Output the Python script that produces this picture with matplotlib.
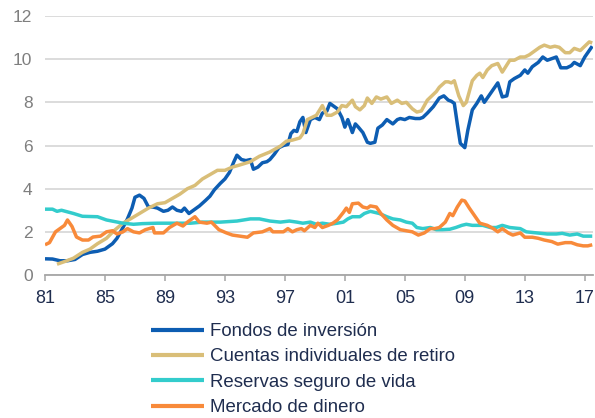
import matplotlib
matplotlib.use("Agg")
import matplotlib.pyplot as plt

plt.rcParams['font.family'] = ['Liberation Sans', 'DejaVu Sans']

# ---- data ----
fondos_x = [1981.0, 1981.5, 1982.0, 1982.5, 1983.0, 1983.5, 1984.0, 1984.5, 1985.0, 1985.5,
            1985.8, 1986.2, 1986.5, 1986.8, 1987.0, 1987.3, 1987.6, 1987.9, 1988.2, 1988.5,
            1988.9, 1989.2, 1989.5, 1989.8, 1990.1, 1990.3, 1990.6, 1991.0, 1991.3, 1991.7,
            1992.0, 1992.3, 1992.7, 1993.0, 1993.3, 1993.6, 1993.8, 1994.1, 1994.4, 1994.7,
            1994.9, 1995.2, 1995.5, 1995.8, 1996.0, 1996.3, 1996.6, 1996.9, 1997.2, 1997.4,
            1997.6, 1997.8, 1998.0, 1998.2, 1998.4, 1998.7, 1999.0, 1999.3, 1999.5, 1999.8,
            2000.0, 2000.3, 2000.5, 2000.8, 2001.0, 2001.2, 2001.5, 2001.7, 2001.9, 2002.2,
            2002.5, 2002.7, 2003.0, 2003.2, 2003.5, 2003.8, 2004.2, 2004.5, 2004.7, 2005.0,
            2005.3, 2005.7, 2006.0, 2006.2, 2006.5, 2006.9, 2007.3, 2007.6, 2007.9, 2008.1,
            2008.3, 2008.5, 2008.7, 2009.0, 2009.2, 2009.5, 2009.8, 2010.1, 2010.3, 2010.7,
            2011.0, 2011.2, 2011.5, 2011.8, 2012.0, 2012.3, 2012.7, 2013.0, 2013.2, 2013.5,
            2013.9, 2014.2, 2014.5, 2014.9, 2015.1, 2015.4, 2015.8, 2016.1, 2016.3, 2016.7,
            2017.0, 2017.3, 2017.5]
fondos_y = [0.75, 0.74, 0.66, 0.66, 0.72, 0.95, 1.05, 1.1, 1.2, 1.45,
            1.7, 2.2, 2.6, 3.1, 3.6, 3.7, 3.55, 3.15, 3.15, 3.1,
            2.95, 3.0, 3.15, 3.0, 2.95, 3.1, 2.85, 3.05, 3.2, 3.45,
            3.65, 3.95, 4.25, 4.45, 4.75, 5.25, 5.55, 5.35, 5.3, 5.35,
            4.9, 5.0, 5.2, 5.25, 5.35, 5.6, 5.9, 6.0, 6.05, 6.55,
            6.7, 6.65, 7.1, 7.3, 6.6, 7.2, 7.3, 7.2, 7.5, 7.6,
            7.95, 7.8, 7.7, 7.3, 6.85, 7.2, 6.6, 7.0, 6.85, 6.6,
            6.15, 6.1, 6.15, 6.8, 6.95, 7.2, 7.0, 7.2, 7.25, 7.2,
            7.3, 7.25, 7.25, 7.3, 7.5, 7.8, 8.2, 8.3, 8.1, 8.05,
            7.95, 7.0, 6.1, 5.9, 6.7, 7.65, 7.95, 8.3, 8.0, 8.4,
            8.7, 8.9, 8.25, 8.3, 8.95, 9.1, 9.25, 9.5, 9.35, 9.65,
            9.85, 10.1, 9.95, 10.05, 10.1, 9.6, 9.6, 9.7, 9.85, 9.7,
            10.1, 10.4, 10.6]

cuentas_x = [1981.8, 1982.3, 1982.9, 1983.5, 1984.0, 1984.5, 1985.1, 1985.6, 1986.2, 1986.7,
             1987.3, 1987.9, 1988.5, 1989.0, 1989.5, 1990.0, 1990.5, 1991.0, 1991.5, 1992.0,
             1992.5, 1993.0, 1993.5, 1994.0, 1994.7, 1995.3, 1996.0, 1996.7, 1997.1, 1997.5,
             1998.0, 1998.2, 1998.5, 1998.8, 1999.1, 1999.5, 1999.8, 2000.1, 2000.5, 2000.8,
             2001.1, 2001.5, 2001.7, 2002.0, 2002.3, 2002.5, 2002.8, 2003.1, 2003.4, 2003.8,
             2004.1, 2004.5, 2004.8, 2005.1, 2005.5, 2005.8, 2006.1, 2006.5, 2006.8, 2007.1,
             2007.3, 2007.7, 2007.9, 2008.1, 2008.3, 2008.6, 2008.9, 2009.1, 2009.5, 2009.8,
             2010.0, 2010.2, 2010.5, 2010.8, 2011.2, 2011.5, 2012.0, 2012.3, 2012.7, 2013.0,
             2013.3, 2013.7, 2014.0, 2014.3, 2014.7, 2015.0, 2015.3, 2015.7, 2016.0, 2016.3,
             2016.7, 2017.0, 2017.3, 2017.5]
cuentas_y = [0.5, 0.62, 0.78, 1.05, 1.2, 1.45, 1.7, 2.05, 2.4, 2.6,
             2.85, 3.1, 3.3, 3.35, 3.55, 3.75, 4.0, 4.15, 4.45, 4.65,
             4.85, 4.85, 5.0, 5.1, 5.25, 5.5, 5.7, 5.97, 6.2, 6.25,
             6.35, 6.55, 7.2, 7.3, 7.4, 7.85, 7.4, 7.4, 7.55, 7.85,
             7.8, 8.1, 7.8, 7.65, 7.85, 8.2, 7.95, 8.25, 8.15, 8.25,
             7.95, 8.1, 7.95, 8.0, 7.7, 7.55, 7.6, 8.1, 8.3, 8.5,
             8.7, 8.95, 8.95, 8.9, 9.0, 8.3, 7.85, 8.0, 9.0, 9.25,
             9.35, 9.15, 9.5, 9.7, 9.8, 9.4, 9.95, 9.95, 10.1, 10.1,
             10.2, 10.4, 10.55, 10.65, 10.55, 10.6, 10.55, 10.3, 10.3, 10.5,
             10.4, 10.6, 10.8, 10.75]

reservas_x = [1981.0, 1981.5, 1981.8, 1982.1, 1982.9, 1983.5, 1984.5, 1985.1, 1986.2, 1986.9,
              1987.5, 1988.5, 1989.5, 1990.7, 1991.5, 1992.7, 1993.8, 1994.7, 1995.3, 1996.0,
              1996.7, 1997.3, 1997.8, 1998.2, 1998.7, 1999.1, 1999.5, 2000.0, 2000.5, 2000.9,
              2001.2, 2001.5, 2002.0, 2002.3, 2002.7, 2003.0, 2003.3, 2003.8, 2004.2, 2004.7,
              2005.1, 2005.5, 2005.8, 2006.2, 2006.7, 2007.1, 2007.5, 2008.0, 2008.4, 2008.8,
              2009.1, 2009.5, 2010.2, 2010.7, 2011.1, 2011.5, 2012.0, 2012.7, 2013.1, 2013.8,
              2014.5, 2015.1, 2015.5, 2016.0, 2016.5, 2016.9, 2017.5]
reservas_y = [3.05, 3.05, 2.95, 3.0, 2.85, 2.72, 2.7, 2.55, 2.4, 2.35,
              2.38, 2.4, 2.4, 2.4, 2.45, 2.45, 2.5, 2.6, 2.6, 2.5,
              2.45, 2.5, 2.45, 2.4, 2.45, 2.35, 2.4, 2.35, 2.4, 2.45,
              2.6, 2.7, 2.7, 2.85, 2.95, 2.9, 2.85, 2.7, 2.6, 2.55,
              2.45, 2.4, 2.2, 2.15, 2.2, 2.1, 2.1, 2.12, 2.2, 2.3,
              2.35, 2.3, 2.3, 2.2, 2.2, 2.3, 2.2, 2.15, 2.0, 1.95,
              1.9, 1.9, 1.93, 1.85, 1.9, 1.8, 1.8]

mercado_x = [1981.0, 1981.3, 1981.7, 1982.0, 1982.3, 1982.5, 1982.8, 1983.1, 1983.5, 1983.9,
             1984.2, 1984.7, 1985.1, 1985.5, 1985.8, 1986.2, 1986.5, 1986.9, 1987.3, 1987.7,
             1988.2, 1988.3, 1988.9, 1989.3, 1989.8, 1990.2, 1990.5, 1991.0, 1991.3, 1991.8,
             1992.1, 1992.6, 1993.1, 1993.5, 1994.0, 1994.5, 1994.9, 1995.5, 1996.0, 1996.2,
             1996.9, 1997.2, 1997.5, 1997.8, 1998.1, 1998.3, 1998.7, 1999.0, 1999.2, 1999.5,
             1999.9, 2000.2, 2000.5, 2000.9, 2001.1, 2001.3, 2001.5, 2001.9, 2002.2, 2002.5,
             2002.7, 2003.1, 2003.4, 2003.8, 2004.2, 2004.7, 2005.1, 2005.5, 2005.9, 2006.3,
             2006.7, 2007.0, 2007.3, 2007.7, 2008.0, 2008.2, 2008.5, 2008.8, 2009.0, 2009.3,
             2009.7, 2010.0, 2010.5, 2010.9, 2011.2, 2011.5, 2011.9, 2012.2, 2012.7, 2013.0,
             2013.5, 2013.9, 2014.3, 2014.8, 2015.2, 2015.7, 2016.1, 2016.5, 2016.9, 2017.2,
             2017.5]
mercado_y = [1.4, 1.5, 2.0, 2.15, 2.3, 2.55, 2.25, 1.76, 1.62, 1.62,
             1.76, 1.8, 2.0, 2.05, 1.9, 2.0, 2.15, 2.0, 1.95, 2.1,
             2.2, 1.95, 1.95, 2.2, 2.4, 2.27, 2.45, 2.7, 2.45, 2.4,
             2.45, 2.1, 1.95, 1.85, 1.8, 1.75, 1.95, 2.0, 2.15, 2.0,
             2.0, 2.15, 2.0, 2.1, 2.15, 2.05, 2.3, 2.2, 2.4, 2.2,
             2.3, 2.4, 2.55, 2.9, 3.1, 2.9, 3.3, 3.33, 3.15, 3.1,
             3.2, 3.15, 2.85, 2.55, 2.3, 2.1, 2.05, 2.0, 1.85, 1.95,
             2.15, 2.15, 2.2, 2.45, 2.85, 2.75, 3.15, 3.47, 3.43, 3.1,
             2.7, 2.4, 2.3, 2.15, 2.0, 2.15, 1.95, 1.85, 1.95, 1.75,
             1.75, 1.7, 1.62, 1.55, 1.43, 1.5, 1.5, 1.4, 1.35, 1.35,
             1.4]

labels = ["Fondos de inversión", "Cuentas individuales de retiro",
          "Reservas seguro de vida", "Mercado de dinero"]
colors = ["#0D5DB2", "#D9BE78", "#33CCCC", "#F88A3A"]
xtick_years = [1981, 1985, 1989, 1993, 1997, 2001, 2005, 2009, 2013, 2017]
xtick_labels = ["81", "85", "89", "93", "97", "01", "05", "09", "13", "17"]
ytick_vals = [0, 2, 4, 6, 8, 10, 12]

# ---- figure ----
fig = plt.figure(figsize=(5.95, 4.18), dpi=100)
ax = fig.add_axes([45/595, 1 - 275/418, (593 - 45)/595, (275 - 16)/418])

lw = 2.5
series = [(fondos_x, fondos_y), (cuentas_x, cuentas_y),
          (reservas_x, reservas_y), (mercado_x, mercado_y)]
handles = []
for (xs, ys), lab, col, z in zip(series, labels, colors, [3, 4, 5, 6]):
    h, = ax.plot(xs, ys, color=col, lw=lw, label=lab, zorder=z,
                 solid_joinstyle='round', solid_capstyle='butt')
    handles.append(h)

ax.set_xlim(1981, 2017.55)
ax.set_ylim(0, 12)
ax.set_yticks(ytick_vals)
ax.set_yticklabels([str(v) for v in ytick_vals])
ax.set_xticks(xtick_years)
ax.set_xticklabels(xtick_labels)

ax.grid(axis='y', color='#D9D9D9', lw=1.3, zorder=0)
ax.set_axisbelow(True)
for s in ['top', 'right', 'left']:
    ax.spines[s].set_visible(False)
ax.spines['bottom'].set_color('#A6A6A6')
ax.spines['bottom'].set_linewidth(1.3)

ax.tick_params(axis='y', length=0, pad=9, labelsize=12.5, labelcolor='#7F7F7F')
ax.tick_params(axis='x', length=4, width=1.1, color='#A6A6A6', pad=7,
               labelsize=13, labelcolor='#1F2D4F')

leg = fig.legend(handles=handles, labels=labels, loc='upper left',
                 bbox_to_anchor=(151/595, 1 - 323/418), frameon=False,
                 fontsize=13.4, handlelength=2.85, handletextpad=0.3,
                 labelspacing=0.45, borderpad=0, borderaxespad=0)
for t in leg.get_texts():
    t.set_color('#1F2D4F')
for l in leg.get_lines():
    l.set_linewidth(3)

fig.savefig("out.png", dpi=100)
